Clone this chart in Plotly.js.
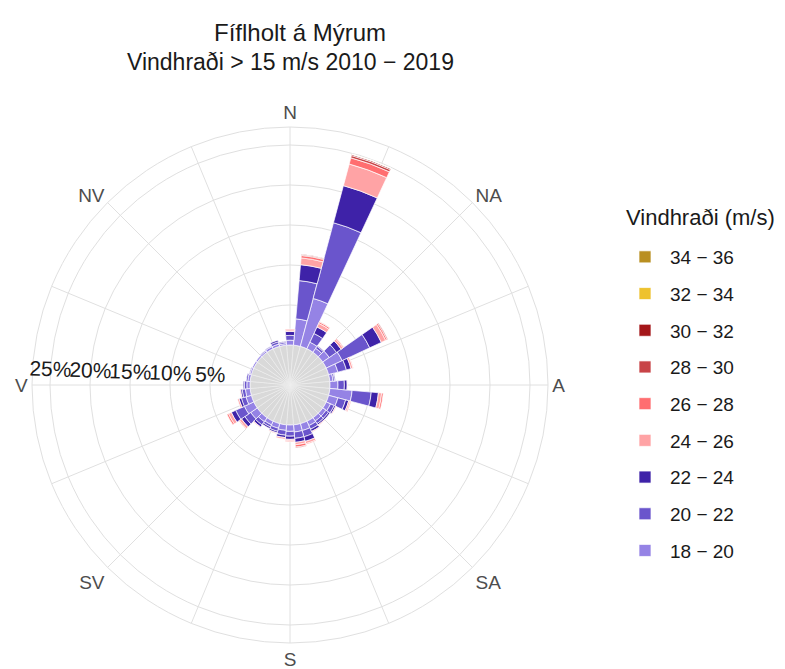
<!DOCTYPE html>
<html>
<head>
<meta charset="utf-8">
<script src="https://cdn.plot.ly/plotly-3.0.1.min.js"></script>
<style>html,body{margin:0;padding:0;background:#fff;}#chart{width:785px;height:669px;}</style>
</head>
<body>
<div id="chart"></div>
<script>
// Direction bins (degrees, clockwise from North)
const directions = [0,10,20,30,40,50,60,70,80,90,100,110,120,130,140,150,160,170,
                    180,190,200,210,220,230,240,250,260,270,280,290,300,310,320,330,340,350];

// Frequency (%) per speed class and direction
const s18_20 = [0.6,3.3,6.2,0.9,0.6,1.0,2.2,1.2,0.4,1.0,2.8,1.2,0.6,0.5,0.5,0.6,0.9,0.9,
                0.8,0.7,0.6,0.5,0.6,1.0,1.3,0.7,0.6,0.4,0.3,0.2,0.2,0.2,0.2,0.3,0.3,0.2];
const s20_22 = [0.6,4.8,9.8,1.2,0.3,1.1,3.8,1.1,0.2,0.8,2.4,1.0,0.5,0.4,0.4,0.5,0.8,0.8,
                0.6,0.6,0.4,0.3,0.5,0.9,1.2,0.6,0.4,0.3,0.2,0.1,0,0,0.1,0.1,0.3,0.2];
const s22_24 = [0.5,2.0,4.8,0.9,0.1,0.7,1.6,0.6,0.1,0.35,0.9,0.4,0.2,0.2,0.2,0.3,0.6,0.5,
                0.4,0.3,0.2,0.2,0.3,0.5,0.6,0.3,0.2,0.15,0,0,0,0,0,0,0.2,0.1];
const s24_26 = [0.2,0.85,2.8,0.5,0,0.3,0.6,0.25,0,0.05,0.4,0.2,0.1,0,0.1,0.1,0.3,0.3,
                0.2,0.2,0.1,0,0.1,0.3,0.4,0.2,0.1,0,0,0,0,0,0,0,0,0];
const s26_28 = [0.1,0.3,0.8,0.2,0,0.1,0.2,0.05,0,0,0.2,0.1,0,0,0,0,0.1,0.3,
                0.1,0,0,0,0,0.1,0.2,0,0,0,0,0,0,0,0,0,0,0];
const s28_30 = [0,0.1,0.3,0.05,0,0,0.1,0,0,0,0,0,0,0,0,0,0,0.1,
                0,0,0,0,0,0,0,0,0,0,0,0,0,0,0,0,0,0];
const s30_32 = [0,0.05,0.15,0,0,0,0,0,0,0,0,0,0,0,0,0,0,0,
                0,0,0,0,0,0,0,0,0,0,0,0,0,0,0,0,0,0];
const s32_34 = [0,0,0.03,0,0,0,0,0,0,0,0,0,0,0,0,0,0,0,
                0,0,0,0,0,0,0,0,0,0,0,0,0,0,0,0,0,0];
const s34_36 = [0,0,0.02,0,0,0,0,0,0,0,0,0,0,0,0,0,0,0,
                0,0,0,0,0,0,0,0,0,0,0,0,0,0,0,0,0,0];

const classLabels = ['18 − 20','20 − 22','22 − 24','24 − 26','26 − 28','28 − 30','30 − 32','32 − 34','34 − 36'];
const classValues = [s18_20,s20_22,s22_24,s24_26,s26_28,s28_30,s30_32,s32_34,s34_36];
const classColors = ['#9583E5','#6A55CC','#3E22A8','#FFA3A5','#FF6E70','#C84447','#A41619','#EEC22E','#B98F21'];

// Direction labels
const dirTickVals = [0,22.5,45,67.5,90,112.5,135,157.5,180,202.5,225,247.5,270,292.5,315,337.5];
const dirTickText = ['N','','NA','','A','','SA','','S','','SV','','V','','NV',''];
// Radial ticks
const pctTickVals = [5,10,15,20,25];
const pctTickText = ['5%','10%','15%','20%','25%'];

const innerDisc = directions.map(() => 5);

const traces = [{
  type: 'barpolar',
  theta: directions,
  r: innerDisc,
  base: -5,
  width: 10,
  marker: {color: '#D9D9D9', line: {color: '#EEEEEE', width: 0.6}},
  showlegend: false,
  hoverinfo: 'skip'
}];
classValues.forEach((vals, i) => {
  traces.push({
    type: 'barpolar',
    name: classLabels[i],
    legendgroup: 'g' + i,
    legendrank: 100 - i,
    theta: directions,
    r: vals,
    width: 10,
    marker: {color: classColors[i], line: {color: '#FFFFFF', width: 0.7}}
  });
});

const W = 785, H = 669;
const CX = 290, CY = 385, R = 258;
const layout = {
  width: W, height: H,
  margin: {l: 0, r: 0, t: 0, b: 0},
  paper_bgcolor: '#FFFFFF',
  font: {family: 'Liberation Sans, Arial, sans-serif', color: '#1A1A1A'},
  title: {text: 'Fíflholt á Mýrum', x: 300 / W, xanchor: 'center', xref: 'paper',
          y: 1 - 33 / H, yanchor: 'middle', yref: 'paper',
          font: {size: 24, color: '#1A1A1A'}},
  annotations: [{
    text: 'Vindhraði > 15 m/s 2010 − 2019', xref: 'paper', yref: 'paper',
    x: 290 / W, y: 1 - 62 / H, xanchor: 'center', yanchor: 'middle', showarrow: false,
    font: {size: 23, color: '#1A1A1A'}
  }, {
    text: 'Vindhraði (m/s)', xref: 'paper', yref: 'paper',
    x: 624 / W, y: 1 - 218 / H, xanchor: 'left', yanchor: 'middle', showarrow: false,
    font: {size: 22, color: '#1A1A1A'}
  }],
  polar: {
    domain: {x: [(CX - R) / W, (CX + R) / W], y: [1 - (CY + R) / H, 1 - (CY - R) / H]},
    bgcolor: '#FFFFFF',
    barmode: 'stack',
    bargap: 0,
    radialaxis: {
      range: [-5, R / 8 - 5],
      tickmode: 'array', tickvals: pctTickVals, ticktext: pctTickText,
      angle: 178, tickangle: 180, side: 'clockwise',
      showline: false, ticks: '',
      gridcolor: '#E0E0E0', gridwidth: 1,
      tickfont: {size: 21, color: '#1A1A1A'}
    },
    angularaxis: {
      type: 'linear', thetaunit: 'degrees',
      rotation: 90, direction: 'clockwise',
      tickmode: 'array', tickvals: dirTickVals, ticktext: dirTickText,
      ticks: '', showline: true, linecolor: '#E0E0E0', linewidth: 1,
      gridcolor: '#E0E0E0', gridwidth: 1,
      tickfont: {size: 19, color: '#4D4D4D'}
    }
  },
  showlegend: true,
  legend: {
    x: 620 / W, xanchor: 'left', y: 1 - 238 / H, yanchor: 'top',
    traceorder: 'grouped', tracegroupgap: 9, itemwidth: 40,
    font: {size: 19, color: '#1A1A1A'},
    bgcolor: 'rgba(0,0,0,0)'
  }
};

Plotly.newPlot('chart', traces, layout, {displayModeBar: false, staticPlot: true});
</script>
</body>
</html>
